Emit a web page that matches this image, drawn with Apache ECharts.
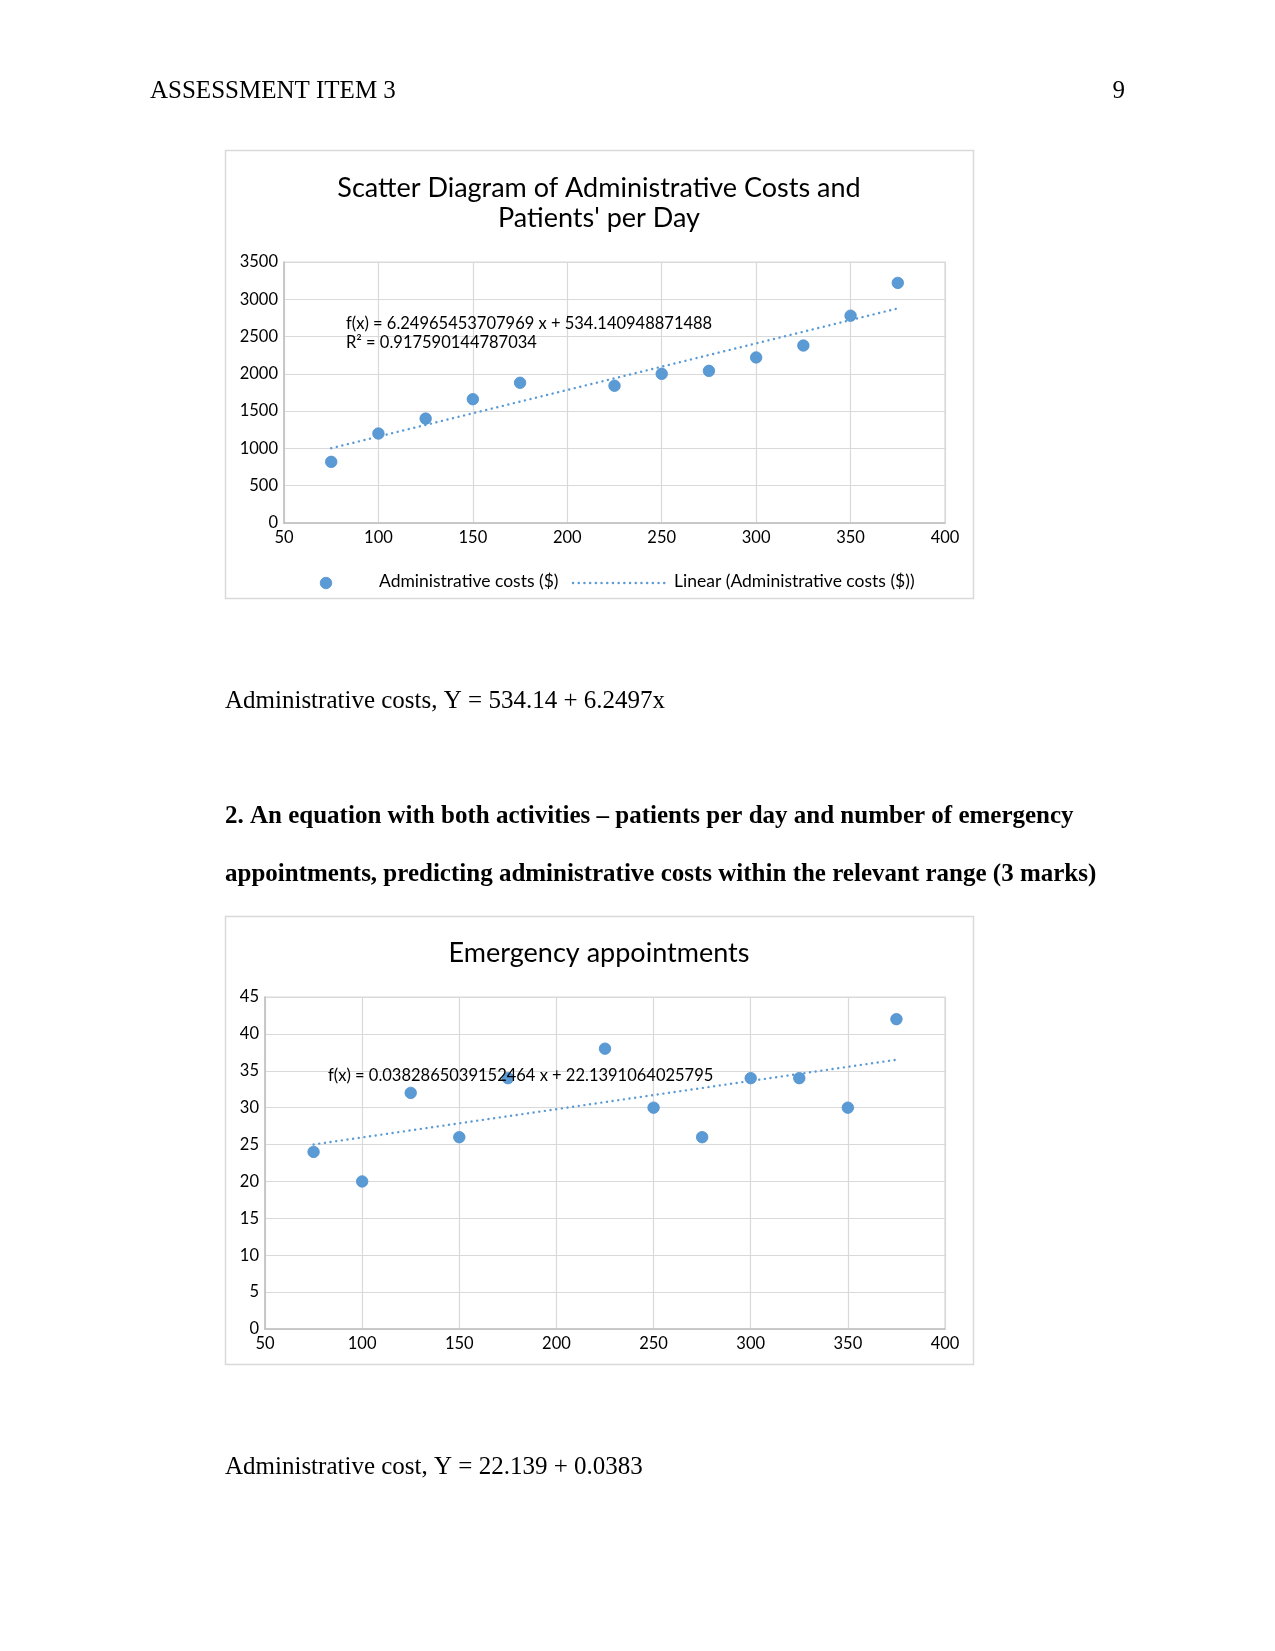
<!DOCTYPE html>
<html>
<head>
<meta charset="utf-8">
<script src="https://cdn.jsdelivr.net/npm/echarts@6/dist/echarts.min.js"></script>
<style>
html,body{margin:0;padding:0;background:#fff;}
#page{width:1275px;height:1651px;}
</style>
</head>
<body>
<div id="page"></div>
<script>
// ---- data ----
const patientsPerDay = [75, 100, 125, 150, 175, 225, 250, 275, 300, 325, 350, 375];
const adminCosts = [820, 1200, 1400, 1660, 1880, 1840, 2000, 2040, 2220, 2380, 2780, 3220];
const emergencyAppointments = [24, 20, 32, 26, 34, 38, 30, 26, 34, 34, 30, 42];
const xTicks = [50, 100, 150, 200, 250, 300, 350, 400];
const yTicksCosts = [0, 500, 1000, 1500, 2000, 2500, 3000, 3500];
const yTicksEmergency = [0, 5, 10, 15, 20, 25, 30, 35, 40, 45];
const eqCosts = 'f(x) = 6.24965453707969 x + 534.140948871488';
const r2Costs = 'R² = 0.917590144787034';
const eqEmergency = 'f(x) = 0.0382865039152464 x + 22.1391064025795';
const legendNames = ['Administrative costs ($)', 'Linear (Administrative costs ($))'];

// least-squares trend from the data
function fit(xs, ys) {
  const n = xs.length;
  const mx = xs.reduce((a, b) => a + b, 0) / n;
  const my = ys.reduce((a, b) => a + b, 0) / n;
  let sxy = 0, sxx = 0;
  for (let i = 0; i < n; i++) { sxy += (xs[i] - mx) * (ys[i] - my); sxx += (xs[i] - mx) ** 2; }
  const b = sxy / sxx, a = my - b * mx;
  const x0 = Math.min(...xs), x1 = Math.max(...xs);
  return [[x0, a + b * x0], [x1, a + b * x1]];
}
const trendCosts = fit(patientsPerDay, adminCosts);
const trendEmergency = fit(patientsPerDay, emergencyAppointments);

const BLUE = '#5b9bd5';
const GRID = '#d9d9d9';
const FONT = 'Lato';
const SERIF = '"Liberation Serif", "Times New Roman", serif';
const DOTS = [0.1, 5.6];

function xAxisCfg(gridIndex) {
  return {
    gridIndex, type: 'value', min: xTicks[0], max: xTicks[xTicks.length - 1],
    interval: xTicks[1] - xTicks[0],
    axisLine: { show: true, onZero: false, lineStyle: { color: '#bfbfbf', width: 1.5 } },
    axisTick: { show: false },
    axisLabel: { color: '#000', fontFamily: FONT, fontSize: 16.5, margin: 6, formatter: v => String(v) },
    splitLine: { show: true, lineStyle: { color: GRID, width: 1.2 } }
  };
}
function yAxisCfg(gridIndex, ticks) {
  return {
    gridIndex, type: 'value', min: ticks[0], max: ticks[ticks.length - 1],
    interval: ticks[1] - ticks[0],
    axisLine: { show: true, lineStyle: { color: '#bfbfbf', width: 1.5 } },
    axisTick: { show: false },
    axisLabel: { color: '#000', fontFamily: FONT, fontSize: 16.5, margin: 6, formatter: v => String(v) },
    splitLine: { show: true, lineStyle: { color: GRID, width: 1.2 } }
  };
}
const markerStyle = { color: BLUE, opacity: 1, borderColor: '#4f8fcc', borderWidth: 0.8 };

const chart = echarts.init(document.getElementById('page'), null, { renderer: 'canvas' });
chart.setOption({
  animation: false,
  backgroundColor: '#fff',
  title: [
    {
      text: 'Scatter Diagram of Administrative Costs and\nPatients\' per Day',
      left: 594, top: 169, textAlign: 'center',
      textStyle: { fontFamily: FONT, fontSize: 27, fontWeight: 'normal', color: '#000', lineHeight: 29.5 }
    },
    {
      text: 'Emergency appointments',
      left: 594, top: 935, textAlign: 'center',
      textStyle: { fontFamily: FONT, fontSize: 27, fontWeight: 'normal', color: '#000' }
    }
  ],
  grid: [
    { left: 284, top: 262, width: 661, height: 261, show: true, borderColor: GRID, borderWidth: 1.2, backgroundColor: 'transparent' },
    { left: 265, top: 997, width: 680, height: 332, show: true, borderColor: GRID, borderWidth: 1.2, backgroundColor: 'transparent' }
  ],
  xAxis: [xAxisCfg(0), xAxisCfg(1)],
  yAxis: [yAxisCfg(0, yTicksCosts), yAxisCfg(1, yTicksEmergency)],
  series: [
    {
      name: legendNames[0], type: 'scatter', xAxisIndex: 0, yAxisIndex: 0,
      symbol: 'circle', symbolSize: 11.5, itemStyle: markerStyle,
      data: patientsPerDay.map((x, i) => [x, adminCosts[i]]), z: 3
    },
    {
      name: legendNames[1], type: 'line', xAxisIndex: 0, yAxisIndex: 0,
      symbol: 'none', showSymbol: false,
      lineStyle: { color: BLUE, width: 2.4, type: DOTS, cap: 'round' },
      data: trendCosts, z: 2
    },
    {
      name: 'Emergency appointments', type: 'scatter', xAxisIndex: 1, yAxisIndex: 1,
      symbol: 'circle', symbolSize: 11.5, itemStyle: markerStyle,
      data: patientsPerDay.map((x, i) => [x, emergencyAppointments[i]]), z: 3
    },
    {
      name: 'Linear (Emergency appointments)', type: 'line', xAxisIndex: 1, yAxisIndex: 1,
      symbol: 'none', showSymbol: false,
      lineStyle: { color: BLUE, width: 2.4, type: DOTS, cap: 'round' },
      data: trendEmergency, z: 2
    }
  ],
  graphic: [
    // chart frames
    { type: 'rect', shape: { x: 225.5, y: 150.5, width: 748, height: 448 }, style: { fill: 'none', stroke: '#d9d9d9', lineWidth: 1.5 }, z: -1 },
    { type: 'rect', shape: { x: 225.5, y: 916.5, width: 748, height: 448 }, style: { fill: 'none', stroke: '#d9d9d9', lineWidth: 1.5 }, z: -1 },
    // legend (chart 1)
    { type: 'circle', shape: { cx: 326, cy: 583, r: 5.75 }, style: { fill: BLUE, stroke: '#4f8fcc', lineWidth: 0.8 } },
    { type: 'text', left: 379, top: 572, style: { text: legendNames[0], font: '17.5px ' + FONT, fill: '#000' } },
    { type: 'line', shape: { x1: 573, y1: 583, x2: 667, y2: 583 }, style: { stroke: BLUE, lineWidth: 2.4, lineDash: DOTS, lineCap: 'round' } },
    { type: 'text', left: 674, top: 572, style: { text: legendNames[1], font: '17.5px ' + FONT, fill: '#000' } },
    // page header
    { type: 'text', left: 150, top: 79, style: { text: 'ASSESSMENT ITEM 3', font: '25px ' + SERIF, fill: '#000' } },
    { type: 'text', right: 150, top: 79, style: { text: '9', font: '25px ' + SERIF, fill: '#000' } },
    // trendline labels
    { type: 'text', left: 346, top: 314, z: 10, style: { text: eqCosts + '\n' + r2Costs, font: '16.5px ' + FONT, fill: '#000', lineHeight: 19 } },
    { type: 'text', left: 328, top: 1067, z: 10, style: { text: eqEmergency, font: '16.5px ' + FONT, fill: '#000' } },
    // body text
    { type: 'text', left: 225, top: 689, style: { text: 'Administrative costs, Y = 534.14 + 6.2497x', font: '25px ' + SERIF, fill: '#000' } },
    { type: 'text', left: 225, top: 804, style: { text: '2. An equation with both activities – patients per day and number of emergency', font: 'bold 25px ' + SERIF, fill: '#000' } },
    { type: 'text', left: 225, top: 862, style: { text: 'appointments, predicting administrative costs within the relevant range (3 marks)', font: 'bold 25px ' + SERIF, fill: '#000' } },
    { type: 'text', left: 225, top: 1455, style: { text: 'Administrative cost, Y = 22.139 + 0.0383', font: '25px ' + SERIF, fill: '#000' } }
  ]
});
</script>
</body>
</html>
